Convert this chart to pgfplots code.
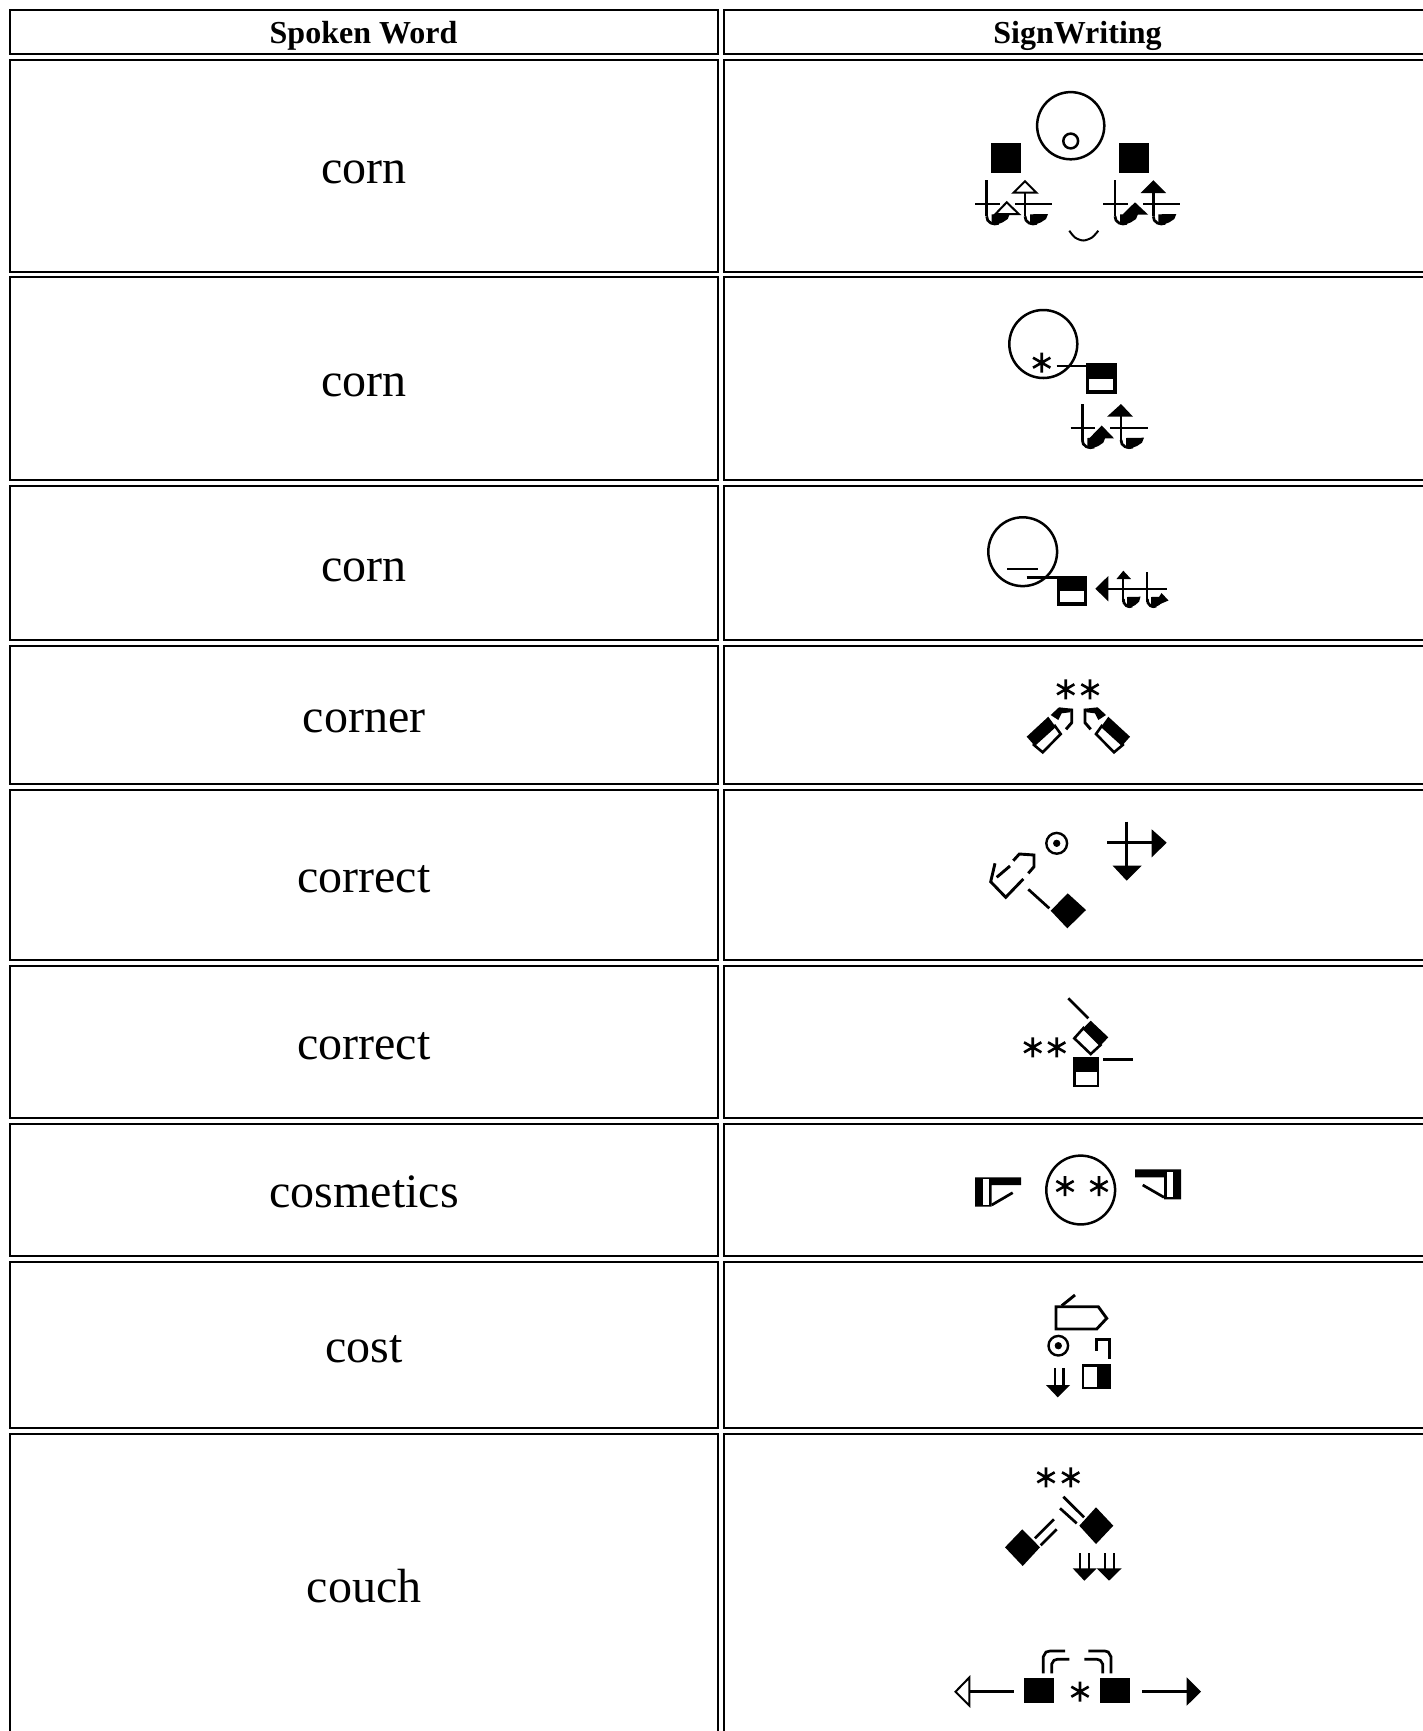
\documentclass[border=0pt]{standalone}
\usepackage{pgfplots}
\usepackage{pgfplotstable}
\usepackage{fontspec}
\setmainfont{Liberation Serif}
\pgfplotsset{compat=1.18}
\pgfplotstableread{
x y
0 12
1 16
4 18.7
8 19.7
12 19
}\hkc
\pgfplotstableread{
x y
5 10
23 9.7
21 14.7
16 18
10 20.3
5 20.3
}\hkb
\newcommand\Ghk[3][1]{%
 \addplot[black,line width=1.35pt] table[x expr=\thisrow{x}*#1+#2,y expr=\thisrow{y}+#3]{\hkc};
 \addplot[fill=black,draw=none] table[x expr=\thisrow{x}*#1+#2,y expr=\thisrow{y}+#3]{\hkb} -- cycle;
}
\newcommand\Gst[2][1.35pt]{\addplot[black,line width=#1] coordinates {#2};}
\newcommand\Gfp[1]{\addplot[fill=black,draw=none] coordinates {#1} -- cycle;}
\newcommand\Gwp[1]{\addplot[fill=white,draw=none] coordinates {#1} -- cycle;}
\newcommand\Gop[2][1.35pt]{\addplot[fill=white,draw=black,line width=#1] coordinates {#2} -- cycle;}
\newcommand\Gcell[4]{\addplot[black,line width=1.15pt] coordinates {(#1,#2)(#3,#2)(#3,#4)(#1,#4)} -- cycle;}
\newcommand\Gcirc[4][1.25pt]{\addplot[only marks,mark=o,mark size=#4,mark options={draw=black,line width=#1}] coordinates {(#2,#3)};}
\newcommand\Gdot[2]{\addplot[only marks,mark=*,mark size=#2,mark options={fill=black,draw=none}] coordinates {#1};}
\newcommand\Gast[2]{\addplot[only marks,mark=asterisk,mark size=5pt,mark options={draw=black,line width=1.3pt}] coordinates {(#1,#2)};}
\newcommand\Gword[2]{\node[anchor=base,inner sep=0pt,font=\fontsize{24}{28}\selectfont] at (axis cs:364,#1) {#2};}
\begin{document}
\begin{tikzpicture}
\begin{axis}[scale only axis,width=711.5pt,height=865.5pt,hide axis,
  xmin=0,xmax=1423,ymin=0,ymax=1731,y dir=reverse,clip=true]
\Gwp{(0,0)(1423,0)(1423,1731)(0,1731)}
% table cells
\Gcell{10}{10}{718}{54}\Gcell{724}{10}{1460}{54}
\Gcell{10}{60}{718}{272}\Gcell{724}{60}{1460}{272}
\Gcell{10}{277}{718}{480}\Gcell{724}{277}{1460}{480}
\Gcell{10}{486}{718}{640}\Gcell{724}{486}{1460}{640}
\Gcell{10}{646}{718}{784}\Gcell{724}{646}{1460}{784}
\Gcell{10}{790}{718}{960}\Gcell{724}{790}{1460}{960}
\Gcell{10}{966}{718}{1118}\Gcell{724}{966}{1460}{1118}
\Gcell{10}{1124}{718}{1256}\Gcell{724}{1124}{1460}{1256}
\Gcell{10}{1262}{718}{1428}\Gcell{724}{1262}{1460}{1428}
\Gcell{10}{1434}{718}{1760}\Gcell{724}{1434}{1460}{1760}
% text
\node[anchor=base,inner sep=0pt,font=\fontsize{16}{20}\selectfont\bfseries] at (axis cs:363.5,43.7) {Spoken Word};
\node[anchor=base,inner sep=0pt,font=\fontsize{16}{20}\selectfont\bfseries] at (axis cs:1077.5,43.7) {SignWriting};
\Gword{183.7}{corn}
\Gword{396}{corn}
\Gword{581}{corn}
\Gword{732.5}{corner}
\Gword{892.5}{correct}
\Gword{1059.5}{correct}
\Gword{1207.5}{cosmetics}
\Gword{1362.2}{cost}
\Gword{1602.5}{couch}
% ---- row 1
\Gcirc{1070.7}{125.7}{16.8pt}
\Gcirc{1070.7}{141}{3.7pt}
\Gfp{(991,143.3)(1021,143.3)(1021,173.3)(991,173.3)}
\Gfp{(1119,143.3)(1149,143.3)(1149,173.3)(1119,173.3)}
\Gst{(986.7,180)(986.7,216.3)}\Gst[1pt]{(975,204.3)(1000,204.3)}
\Ghk{986.7}{204.3}
\Gst{(1025,190)(1025,216.3)}\Gst[1pt]{(1015,204.3)(1051.7,204.3)}
\Ghk{1025}{204.3}
\Gop[1pt]{(1006.7,202.3)(995.5,214)(1018.8,214)}
\Gop[1pt]{(1025,181.2)(1013.5,192.7)(1036.5,192.7)}
\Gst{(1115,180)(1115,216.3)}\Gst[1pt]{(1103.3,204.3)(1128.3,204.3)}
\Ghk{1115}{204.3}
\Gst{(1153.3,190)(1153.3,216.3)}\Gst[1pt]{(1143.3,204.3)(1180,204.3)}
\Ghk{1153.3}{204.3}
\Gfp{(1135,202.3)(1122.5,214.5)(1148,214.5)}
\Gfp{(1153.3,180.2)(1140.5,193)(1166,193)}
\addplot[black,line width=1pt,smooth] coordinates {(1069.3,230.7)(1075,237.5)(1083.3,240.5)(1092,237.5)(1098.3,230.7)};
% ---- row 2
\Gcirc{1043.3}{344}{17pt}
\Gast{1041.7}{362.7}
\Gst{(1056.7,366)(1086.7,366)}
\Gfp{(1086,363)(1116.5,363)(1116.5,393.7)(1086,393.7)}
\Gwp{(1089.3,379.3)(1112.7,379.3)(1112.7,390)(1089.3,390)}
\Gst{(1082.3,404)(1082.3,440)}\Gst[1pt]{(1070.7,428)(1095,428)}
\Ghk{1082.3}{428}
\Gst{(1121,412)(1121,440)}\Gst[1pt]{(1110,428)(1147.7,428)}
\Ghk{1121}{428}
\Gfp{(1101.7,425.5)(1089.3,438.3)(1114,438.3)}
\Gfp{(1121,404)(1107,416.7)(1133,416.7)}
% ---- row 3
\Gcirc{1022.7}{551.7}{17.2pt}
\Gst[1pt]{(1007.3,569.3)(1038.3,569.3)}
\Gst{(1026.7,577.3)(1057.3,577.3)}
\Gfp{(1057,576)(1087,576)(1087,605.5)(1057,605.5)}
\Gwp{(1060,590.7)(1084,590.7)(1084,602)(1060,602)}
\Gfp{(1095.3,588.7)(1108.3,576)(1108.3,601.3)}
\Gst[1pt]{(1108,588.7)(1166.7,588.7)}
\Gst[1pt]{(1123.3,578)(1123.3,602)}
\Gst[1pt]{(1147.3,572)(1147.3,602)}
\Ghk[.75]{1123.3}{587}
\Ghk[.75]{1147.3}{587}
\Gfp{(1123.3,570.7)(1116.5,579)(1131,579)}
\Gfp{(1161.5,593)(1153,607)(1168.5,600.5)}
% ---- row 4
\Gast{1065.7}{689.3}\Gast{1090}{689.3}
\Gop[1.3pt]{(1034,745)(1042.7,752.3)(1060.7,734)(1055,726)}
\Gfp{(1026.7,736.7)(1048.3,716.7)(1055,726)(1034,745)}
\Gfp{(1050.7,715)(1059,707.3)(1071.7,708.7)(1070,712.3)(1061.7,713.3)(1058.3,720)}
\Gst[1.45pt]{(1071.7,708.7)(1071.7,722.7)(1066,729.3)}
\Gop[1.3pt]{(1122.7,745)(1114,752.3)(1096,734)(1101.7,726)}
\Gfp{(1130,736.7)(1108.3,716.7)(1101.7,726)(1122.7,745)}
\Gfp{(1106,715)(1097.7,707.3)(1085,708.7)(1086.7,712.3)(1095,713.3)(1098.3,720)}
\Gst[1.45pt]{(1085,708.7)(1085,722.7)(1090.7,729.3)}
% ---- row 5
\Gcirc[1.2pt]{1056.7}{843.3}{5.2pt}
\Gdot{(1056.7,843.3)}{1.6pt}
\Gst[1.45pt]{(1126.7,821.7)(1126.7,867)}
\Gst[1.45pt]{(1107.3,842.7)(1152,842.7)}
\Gfp{(1112.7,865.7)(1141.7,865.7)(1126.7,880.7)}
\Gfp{(1151.7,829.3)(1151.7,857.3)(1166.7,842.7)}
\Gst[1.45pt]{(995,863.3)(990.7,881.7)(1005.7,897.3)(1023.3,879)}
\Gst[1.45pt]{(996.7,877.3)(1010,866)}
\Gst[1.45pt]{(1013.3,860.7)(1019.3,854)(1034,855)(1034,866.7)(1028.3,873.3)}
\Gst{(1028.3,889.3)(1049.3,908.3)}
\Gfp{(1050.7,910.7)(1067.7,893.3)(1086,910)(1067.3,928.3)}
% ---- row 6
\Gst{(1068.3,998.3)(1088.3,1018.3)}
\Gop[1.3pt]{(1083.5,1028)(1074.3,1038.3)(1090.7,1054)(1100.5,1045)}
\Gfp{(1090.7,1020.7)(1108.3,1037.3)(1100.5,1045.5)(1083,1028.5)}
\Gast{1032.7}{1047.3}\Gast{1056.7}{1047.3}
\Gfp{(1073.3,1057.3)(1099.3,1057.3)(1099.3,1087.3)(1073.3,1087.3)}
\Gwp{(1076,1071.7)(1096.7,1071.7)(1096.7,1085)(1076,1085)}
\Gst{(1103.3,1059.3)(1132.7,1059.3)}
% ---- row 7
\Gfp{(975,1177.3)(1021,1177.3)(1021,1185)(991.7,1185)(991.7,1206.7)(975,1206.7)}
\Gwp{(982.7,1179.3)(989.3,1179.3)(989.3,1205)(982.7,1205)}
\Gst{(991.7,1205)(1012.7,1192.7)}
\Gcirc{1080.7}{1190}{17.2pt}
\Gast{1065}{1186}\Gast{1099}{1186}
\Gfp{(1135,1169.3)(1181,1169.3)(1181,1199.3)(1164,1199.3)(1164,1177.3)(1135,1177.3)}
\Gwp{(1166.7,1171.7)(1173.3,1171.7)(1173.3,1197.3)(1166.7,1197.3)}
\Gst{(1142.7,1185)(1164,1197.3)}
% ---- row 8
\Gop[1.45pt]{(1056,1306.7)(1098.3,1306.7)(1106.7,1318.3)(1096.7,1329)(1056,1329)}
\Gst[1.45pt]{(1061.7,1305.7)(1075,1295)}
\Gcirc[1.2pt]{1058.3}{1345.7}{4.9pt}
\Gdot{(1058.3,1345.7)}{1.6pt}
\Gst[1.5pt]{(1096.7,1350.7)(1096.7,1339)(1109.3,1339)(1109.3,1359)}
\Gst{(1055,1368.3)(1055,1386)}\Gst{(1063.3,1368.3)(1063.3,1386)}
\Gfp{(1046,1385)(1070,1385)(1057.7,1397.3)}
\Gfp{(1081.7,1364)(1110.7,1364)(1110.7,1389.3)(1081.7,1389.3)}
\Gwp{(1084,1366.7)(1097.3,1366.7)(1097.3,1386.7)(1084,1386.7)}
% ---- row 9
\Gast{1046}{1477.3}\Gast{1070.7}{1477.3}
\Gst{(1063.3,1496.7)(1084,1517.3)}\Gst{(1060,1508.3)(1076.7,1523.3)}
\Gfp{(1096,1507.3)(1113.3,1525.7)(1096,1544)(1079.3,1525.7)}
\Gfp{(1022.3,1529.3)(1040,1547.3)(1022.7,1566)(1005,1547.3)}
\Gst{(1035,1538.3)(1054,1519.3)}\Gst{(1040.7,1545.3)(1056.7,1529.3)}
\Gst{(1080,1553.3)(1080,1569)}\Gst{(1089,1553.3)(1089,1569)}
\Gst{(1105,1553.3)(1105,1569)}\Gst{(1114,1553.3)(1114,1569)}
\Gfp{(1072.7,1568.3)(1096.7,1568.3)(1084.3,1580.7)}
\Gfp{(1096.7,1568.3)(1121.7,1568.3)(1109,1580.7)}
\Gop[1pt]{(955.5,1691.7)(969.3,1677.5)(969.3,1705.5)}
\Gst[1.45pt]{(969.3,1691.7)(1014,1691.7)}
\Gfp{(1024.3,1678)(1054,1678)(1054,1703.3)(1024.3,1703.3)}
\Gfp{(1100,1678)(1130,1678)(1130,1703.3)(1100,1703.3)}
\Gast{1080}{1691.7}
\Gst[1.45pt]{(1142.3,1691.7)(1187,1691.7)}
\Gfp{(1186.7,1677.3)(1186.7,1705.7)(1201,1691.7)}
\Gst{(1043.3,1673.3)(1043.3,1656.7)(1046,1652)(1050,1651)(1065,1651)}
\Gst{(1051.7,1673.3)(1051.7,1664)(1054,1660.3)(1057.3,1659.3)(1069.3,1659.3)}
\Gst{(1111,1673.3)(1111,1656.7)(1108.3,1652)(1105,1651)(1088.3,1651)}
\Gst{(1102.7,1673.3)(1102.7,1664)(1100.3,1660.3)(1097,1659.3)(1084.3,1659.3)}
\end{axis}
\end{tikzpicture}
\end{document}
